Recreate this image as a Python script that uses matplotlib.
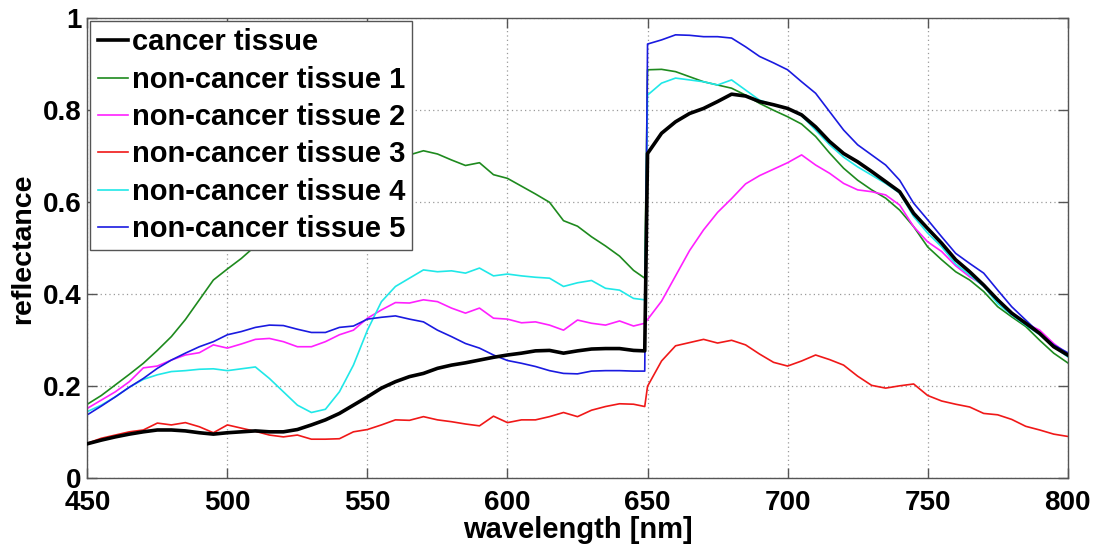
import matplotlib
matplotlib.use("Agg")
import matplotlib.pyplot as plt

wavelength = [450, 455, 460, 465, 470, 475, 480, 485, 490, 495,
              500, 505, 510, 515, 520, 525, 530, 535, 540, 545,
              550, 555, 560, 565, 570, 575, 580, 585, 590, 595,
              600, 605, 610, 615, 620, 625, 630, 635, 640, 645,
              649, 650, 655, 660, 665, 670, 675, 680, 685, 690,
              695, 700, 705, 710, 715, 720, 725, 730, 735, 740,
              745, 750, 755, 760, 765, 770, 775, 780, 785, 790,
              795, 800]

cancer = [0.075, 0.083, 0.090, 0.096, 0.101, 0.105, 0.105, 0.103, 0.099, 0.096,
          0.099, 0.101, 0.103, 0.101, 0.101, 0.106, 0.116, 0.127, 0.141, 0.159,
          0.177, 0.196, 0.210, 0.221, 0.228, 0.239, 0.246, 0.251, 0.257, 0.263,
          0.268, 0.272, 0.277, 0.278, 0.272, 0.277, 0.281, 0.282, 0.282, 0.278,
          0.277, 0.706, 0.750, 0.775, 0.793, 0.804, 0.819, 0.835, 0.831, 0.819,
          0.812, 0.804, 0.790, 0.764, 0.732, 0.706, 0.688, 0.667, 0.645, 0.623,
          0.576, 0.543, 0.511, 0.475, 0.449, 0.420, 0.388, 0.359, 0.337, 0.315,
          0.286, 0.268]

non_cancer_1 = [0.161, 0.180, 0.203, 0.226, 0.250, 0.278, 0.308, 0.345, 0.388, 0.431,
                0.455, 0.478, 0.505, 0.540, 0.570, 0.600, 0.625, 0.645, 0.660, 0.670,
                0.680, 0.690, 0.698, 0.703, 0.712, 0.705, 0.692, 0.680, 0.686, 0.660,
                0.652, 0.635, 0.618, 0.600, 0.560, 0.548, 0.525, 0.505, 0.483, 0.452,
                0.435, 0.888, 0.889, 0.884, 0.873, 0.862, 0.855, 0.848, 0.833, 0.815,
                0.800, 0.786, 0.770, 0.743, 0.707, 0.674, 0.648, 0.627, 0.609, 0.583,
                0.547, 0.503, 0.475, 0.449, 0.431, 0.406, 0.373, 0.351, 0.330, 0.300,
                0.272, 0.251]

non_cancer_2 = [0.152, 0.170, 0.188, 0.210, 0.240, 0.244, 0.257, 0.268, 0.273, 0.290,
                0.283, 0.292, 0.302, 0.304, 0.297, 0.286, 0.286, 0.297, 0.312, 0.322,
                0.348, 0.366, 0.382, 0.381, 0.388, 0.384, 0.370, 0.359, 0.370, 0.348,
                0.346, 0.338, 0.340, 0.333, 0.322, 0.344, 0.337, 0.333, 0.342, 0.331,
                0.337, 0.345, 0.385, 0.440, 0.495, 0.540, 0.578, 0.608, 0.640, 0.658,
                0.672, 0.686, 0.703, 0.681, 0.663, 0.641, 0.627, 0.623, 0.616, 0.594,
                0.547, 0.514, 0.493, 0.462, 0.438, 0.420, 0.388, 0.359, 0.337, 0.322,
                0.293, 0.270]

non_cancer_3 = [0.076, 0.087, 0.094, 0.101, 0.105, 0.120, 0.116, 0.121, 0.112, 0.099,
                0.116, 0.109, 0.102, 0.094, 0.090, 0.094, 0.085, 0.085, 0.086, 0.101,
                0.106, 0.116, 0.127, 0.126, 0.134, 0.127, 0.123, 0.118, 0.114, 0.135,
                0.121, 0.127, 0.127, 0.134, 0.143, 0.134, 0.148, 0.156, 0.162, 0.161,
                0.156, 0.200, 0.255, 0.288, 0.295, 0.302, 0.294, 0.300, 0.290, 0.270,
                0.252, 0.244, 0.255, 0.268, 0.258, 0.246, 0.222, 0.202, 0.196, 0.201,
                0.205, 0.180, 0.168, 0.161, 0.155, 0.141, 0.138, 0.128, 0.113, 0.105,
                0.096, 0.091]

non_cancer_4 = [0.145, 0.159, 0.177, 0.198, 0.215, 0.225, 0.232, 0.234, 0.237, 0.238,
                0.234, 0.238, 0.242, 0.217, 0.188, 0.159, 0.143, 0.150, 0.188, 0.246,
                0.322, 0.384, 0.417, 0.435, 0.453, 0.449, 0.451, 0.446, 0.457, 0.440,
                0.444, 0.440, 0.437, 0.435, 0.417, 0.425, 0.430, 0.413, 0.409, 0.391,
                0.388, 0.833, 0.859, 0.870, 0.866, 0.862, 0.855, 0.866, 0.844, 0.822,
                0.812, 0.804, 0.788, 0.757, 0.725, 0.698, 0.677, 0.659, 0.641, 0.620,
                0.569, 0.533, 0.503, 0.466, 0.442, 0.417, 0.380, 0.355, 0.333, 0.312,
                0.286, 0.264]

non_cancer_5 = [0.138, 0.157, 0.177, 0.198, 0.217, 0.239, 0.257, 0.272, 0.286, 0.297,
                0.312, 0.319, 0.328, 0.333, 0.332, 0.324, 0.317, 0.317, 0.328, 0.331,
                0.346, 0.350, 0.353, 0.346, 0.340, 0.322, 0.308, 0.293, 0.283, 0.268,
                0.256, 0.250, 0.243, 0.234, 0.228, 0.227, 0.233, 0.234, 0.234, 0.233,
                0.233, 0.944, 0.953, 0.964, 0.963, 0.960, 0.960, 0.957, 0.938, 0.917,
                0.903, 0.888, 0.862, 0.837, 0.797, 0.757, 0.725, 0.703, 0.681, 0.648,
                0.598, 0.562, 0.525, 0.489, 0.467, 0.446, 0.409, 0.373, 0.344, 0.315,
                0.290, 0.273]

labels = ["cancer tissue", "non-cancer tissue 1", "non-cancer tissue 2",
          "non-cancer tissue 3", "non-cancer tissue 4", "non-cancer tissue 5"]
x_ticks = [450, 500, 550, 600, 650, 700, 750, 800]
y_ticks = [0, 0.2, 0.4, 0.6, 0.8, 1]
y_tick_labels = ["0", "0.2", "0.4", "0.6", "0.8", "1"]

plt.rcParams['font.family'] = ['Liberation Sans', 'DejaVu Sans']
plt.rcParams['font.weight'] = 'bold'

fig = plt.figure(figsize=(10.97, 5.44), dpi=100)
ax = fig.add_axes([0.0796, 0.1208, 0.8937, 0.8456])

series = [cancer, non_cancer_1, non_cancer_2, non_cancer_3, non_cancer_4, non_cancer_5]
colors = ["#000000", "#1e8a1e", "#ff20ff", "#f01818", "#20e8e8", "#1a1ae0"]
widths = [2.6, 1.2, 1.2, 1.2, 1.2, 1.2]
lines = {}
for i in [1, 2, 3, 4, 5, 0]:
    ln, = ax.plot(wavelength, series[i], color=colors[i], lw=widths[i],
                  label=labels[i], zorder=3 if i == 0 else 2)
    lines[i] = ln

ax.set_xlim(450, 800)
ax.set_ylim(0, 1)
ax.set_xticks(x_ticks)
ax.set_yticks(y_ticks)
ax.set_yticklabels(y_tick_labels)
ax.tick_params(direction='in', length=7, width=1, top=True, right=True,
               labelsize=20, color='#555555')
ax.tick_params(axis='x', pad=8.5)
ax.tick_params(axis='y', pad=4)
for lab in ax.get_xticklabels() + ax.get_yticklabels():
    lab.set_fontweight('bold')
ax.grid(True, color='#9a9a9a', linestyle=(0, (1, 2.5)), linewidth=0.9)
for sp in ax.spines.values():
    sp.set_color('#555555')
    sp.set_linewidth(1.0)

ax.set_xlabel("wavelength [nm]", fontsize=21, fontweight='bold', labelpad=0)
ax.set_ylabel("reflectance", fontsize=20.5, fontweight='bold', labelpad=5)

leg = ax.legend([lines[i] for i in range(6)], labels, loc='upper left',
                prop={'weight': 'bold', 'size': 21},
                frameon=True, fancybox=False, framealpha=1,
                edgecolor='#555555', borderaxespad=0.1, handlelength=1.05,
                handletextpad=0.12, labelspacing=0.32, borderpad=0.25)
leg.get_frame().set_linewidth(1.0)
leg.set_zorder(5)

fig.savefig("out.png", dpi=100)
